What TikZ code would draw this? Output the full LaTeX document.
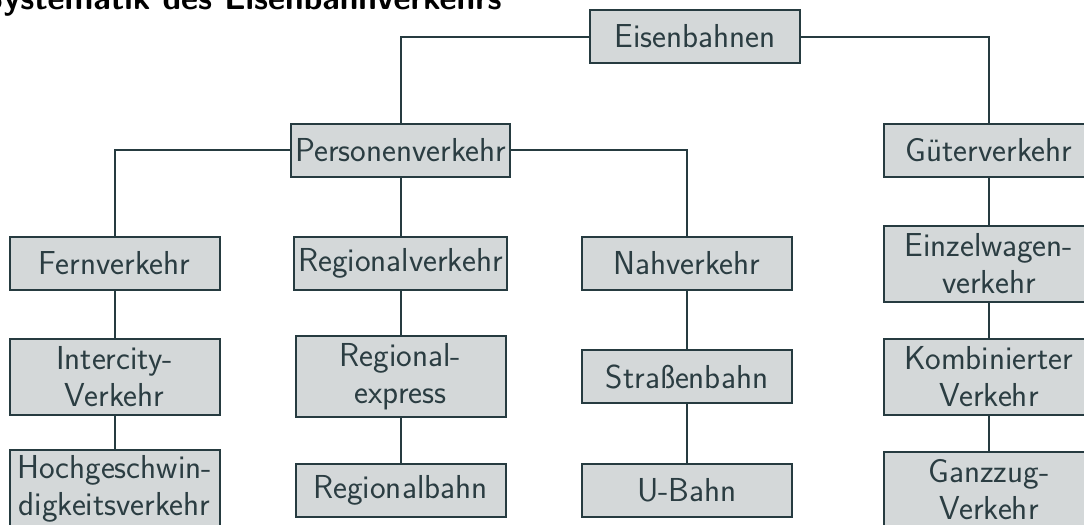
\documentclass[tikz,border=0pt]{standalone}
\usepackage{xcolor}
\definecolor{boxfill}{HTML}{D4D8D9}
\definecolor{boxline}{HTML}{263B40}
\definecolor{boxtext}{HTML}{2B3D42}
\begin{document}
\begin{tikzpicture}[x=0.5pt,y=-0.5pt,
  box/.style={draw=boxline, fill=boxfill, line width=1pt, text=boxtext,
    minimum width=105pt, minimum height=26.5pt, inner xsep=2pt, inner ysep=2pt,
    align=center, font=\sffamily\fontsize{16.6}{18.5}\selectfont},
  link/.style={draw=boxline, line width=1pt}]
\useasboundingbox (0,0) rectangle (1084,525);
\clip (0,0) rectangle (1084,525);
\node[anchor=base west, inner sep=0pt, font=\sffamily\bfseries\fontsize{16.6}{18.5}\selectfont] (title) at (-17,9) {Systematik des Eisenbahnverkehrs};
\node[box] (E) at (695,36.5) {Eisenbahnen};
\node[box] (P) at (400.5,150) {Personenverkehr};
\node[box] (G) at (989,150) {Güterverkehr};
\node[box] (F) at (114.5,263.5) {Fernverkehr};
\node[box] (R) at (400.5,263.5) {Regionalverkehr};
\node[box] (N) at (687,263.5) {Nahverkehr};
\node[box, minimum height=38pt] (EW) at (989,264) {Einzelwagen-\\verkehr};
\node[box, minimum height=38pt] (IC) at (114.5,377) {Intercity-\\Verkehr};
\node[box, minimum height=40.5pt] (RE) at (400.5,376.5) {Regional-\\express};
\node[box] (S) at (687,376.5) {Straßenbahn};
\node[box, minimum height=38pt] (K) at (989,377) {Kombinierter\\Verkehr};
\node[box, minimum height=39pt] (H) at (114.5,489) {Hochgeschwin-\\digkeitsverkehr};
\node[box] (RB) at (400.5,490.5) {Regionalbahn};
\node[box] (U) at (687,490) {U-Bahn};
\node[box, minimum height=38pt] (GZ) at (989,490) {Ganzzug-\\Verkehr};
\draw[link] (E.west) -| (P.north);
\draw[link] (E.east) -| (G.north);
\draw[link] (P.west) -| (F.north);
\draw[link] (P.east) -| (N.north);
\draw[link] (P.south) -- (R.north);
\draw[link] (G.south) -- (EW.north);
\draw[link] (F.south) -- (IC.north);
\draw[link] (IC.south) -- (H.north);
\draw[link] (R.south) -- (RE.north);
\draw[link] (RE.south) -- (RB.north);
\draw[link] (N.south) -- (S.north);
\draw[link] (S.south) -- (U.north);
\draw[link] (EW.south) -- (K.north);
\draw[link] (K.south) -- (GZ.north);
\end{tikzpicture}
\end{document}
